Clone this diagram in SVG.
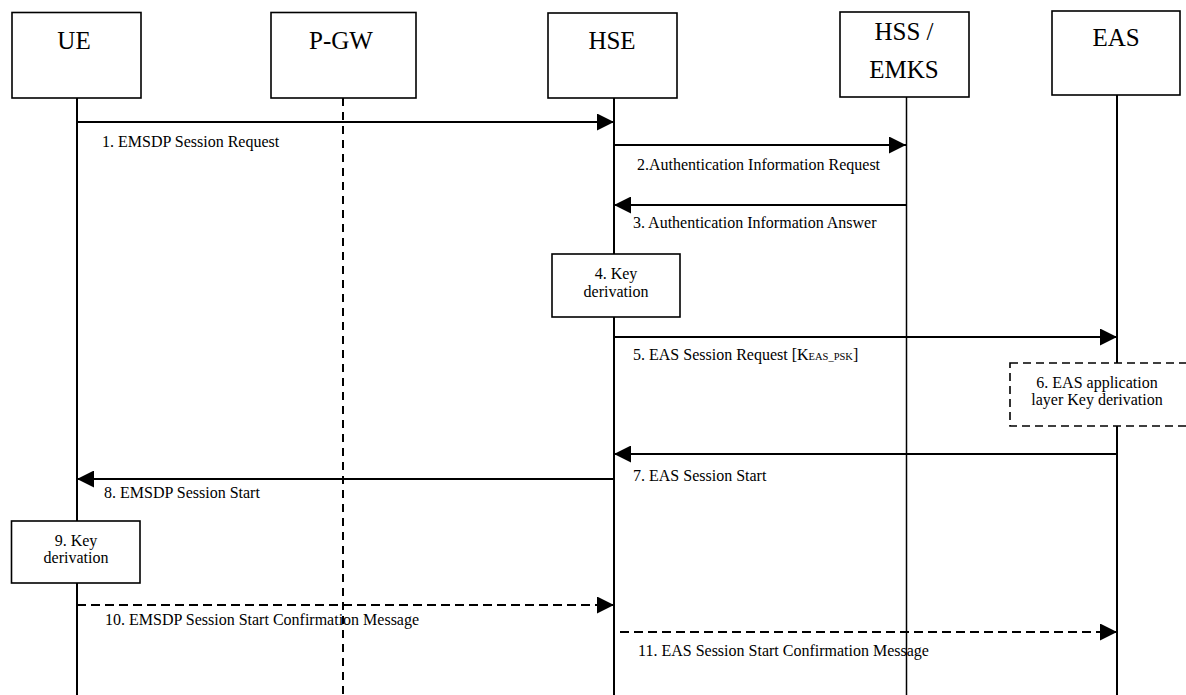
<svg xmlns="http://www.w3.org/2000/svg" width="1186" height="695" viewBox="0 0 1186 695">
<defs>
<marker id="ah" markerUnits="userSpaceOnUse" markerWidth="17" markerHeight="17" refX="17" refY="8.5" orient="auto">
<path d="M0,0 L17,8.5 L0,17 z" fill="#000"/>
</marker>
<style>
.box{fill:#fff;stroke:#000;stroke-width:1.6}
.dbox{fill:#fff;stroke:#000;stroke-width:1.6;stroke-dasharray:8 5}
.life{stroke:#000;stroke-width:2;fill:none}
.thin{stroke:#000;stroke-width:1.5;fill:none}
.dlife{stroke:#000;stroke-width:2;stroke-dasharray:8 6;fill:none}
.msg{stroke:#000;stroke-width:2;fill:none;marker-end:url(#ah)}
.dmsg{stroke:#000;stroke-width:2;stroke-dasharray:9 5;fill:none;marker-end:url(#ah)}
.hd{font-family:"Liberation Serif","Times New Roman",serif;font-size:25px;fill:#000;text-anchor:middle}
.lb{font-family:"Liberation Serif","Times New Roman",serif;font-size:16px;fill:#000}
.bt{font-family:"Liberation Serif","Times New Roman",serif;font-size:16px;fill:#000;text-anchor:middle}
.sub{font-size:10.5px}
</style>
</defs>
<rect width="1186" height="695" fill="#fff"/>
<g id="lifelines">
<line class="life" x1="77" y1="98" x2="77" y2="695"/>
<line class="dlife" x1="343" y1="98" x2="343" y2="695"/>
<line class="life" x1="614" y1="98" x2="614" y2="695"/>
<line class="thin" x1="906.5" y1="97" x2="906.5" y2="695"/>
<line class="life" x1="1117" y1="95" x2="1117" y2="695"/>
</g>
<g id="UE">
<rect class="box" x="12" y="12.5" width="129" height="85.5"/>
<text class="hd" x="74" y="49">UE</text>
</g>
<g id="PGW">
<rect class="box" x="271" y="12.5" width="145" height="85.5"/>
<text class="hd" x="341" y="49">P-GW</text>
</g>
<g id="HSE">
<rect class="box" x="548" y="13" width="129" height="85"/>
<text class="hd" x="612" y="49">HSE</text>
</g>
<g id="HSS">
<rect class="box" x="840" y="12" width="129" height="85"/>
<text class="hd" x="904" y="40">HSS /</text>
<text class="hd" x="904" y="78">EMKS</text>
</g>
<g id="EAS">
<rect class="box" x="1052" y="11" width="128" height="84"/>
<text class="hd" x="1116" y="46">EAS</text>
</g>
<g id="connectors">
<line class="msg" x1="77" y1="122" x2="614" y2="122"/>
<line class="msg" x1="614" y1="145" x2="906" y2="145"/>
<line class="msg" x1="906" y1="205" x2="614" y2="205"/>
<line class="msg" x1="614" y1="337" x2="1117" y2="337"/>
<line class="msg" x1="1117" y1="454" x2="614" y2="454"/>
<line class="msg" x1="614" y1="479" x2="77" y2="479"/>
<line class="dmsg" x1="77" y1="605" x2="614" y2="605"/>
<line class="dmsg" x1="620" y1="632" x2="1117" y2="632"/>
</g>
<g id="labels">
<text class="lb" x="102" y="147">1. EMSDP Session Request</text>
<text class="lb" x="637" y="170">2.Authentication Information Request</text>
<text class="lb" x="633" y="228">3. Authentication Information Answer</text>
<text class="lb" x="633" y="360">5. EAS Session Request [K<tspan class="sub">EAS_PSK</tspan>]</text>
<text class="lb" x="633" y="481">7. EAS Session Start</text>
<text class="lb" x="104" y="498">8. EMSDP Session Start</text>
<text class="lb" x="105" y="625">10. EMSDP Session Start Confirmation Message</text>
<text class="lb" x="638" y="656">11. EAS Session Start Confirmation Message</text>
</g>
<g id="step4">
<rect class="box" x="552" y="254" width="128" height="63"/>
<text class="bt" x="616" y="279">4. Key</text>
<text class="bt" x="616" y="297">derivation</text>
</g>
<g id="step6">
<rect class="dbox" x="1010" y="363" width="180" height="63"/>
<text class="bt" x="1097" y="388">6. EAS application</text>
<text class="bt" x="1097" y="405">layer Key derivation</text>
</g>
<g id="step9">
<rect class="box" x="11.5" y="521" width="128.5" height="62"/>
<text class="bt" x="76" y="546">9. Key</text>
<text class="bt" x="76" y="563">derivation</text>
</g>
</svg>
